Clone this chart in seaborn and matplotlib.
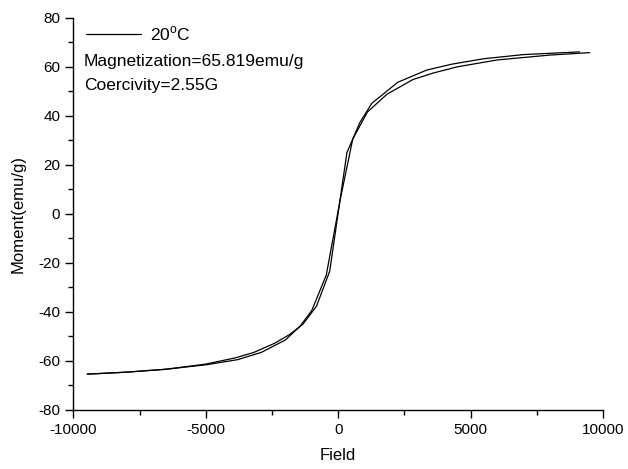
import numpy as np
import pandas as pd
import matplotlib
matplotlib.use("Agg")
import matplotlib.pyplot as plt
import seaborn as sns
from matplotlib.ticker import MultipleLocator
from matplotlib.lines import Line2D

# branch A (sampled field points, Oe) and moment (emu/g)
field_a = [-9480, -8000, -6500, -5000, -3900, -3200, -2400, -1830, -1330, -820,
           -320, 330, 820, 1270, 2250, 3350, 4300, 5500, 7000, 9120]
moment_a = [-65.4, -64.6, -63.4, -61.3, -58.8, -56.6, -52.8, -49.2, -45.0, -37.7,
            -23.4, 25.0, 37.3, 45.1, 53.7, 58.7, 61.1, 63.3, 65.0, 66.1]

# branch B
field_b = [9500, 8000, 6000, 4500, 3600, 2820, 1840, 1100, 550, 80,
           -450, -1000, -1450, -2000, -2900, -3800, -5000, -6500, -8000, -9480]
moment_b = [65.8, 64.8, 62.8, 60.0, 57.5, 54.8, 48.8, 41.5, 30.5, 6.0,
            -25.0, -39.5, -46.0, -51.5, -56.5, -59.5, -61.6, -63.4, -64.6, -65.4]

legend_label = "20$^{\\mathregular{o}}$C"
magnetization_text = "Magnetization=65.819emu/g"
coercivity_text = "Coercivity=2.55G"

df = pd.DataFrame({
    "Field": field_a + field_b,
    "Moment": moment_a + moment_b,
    "branch": ["A"] * len(field_a) + ["B"] * len(field_b),
})

sns.set_style("ticks")
plt.rcParams["font.family"] = ["Liberation Sans", "DejaVu Sans"]
plt.rcParams["axes.unicode_minus"] = False
plt.rcParams["text.color"] = "black"
plt.rcParams["axes.labelcolor"] = "black"

fig = plt.figure(figsize=(6.28, 4.69), dpi=100)
ax = fig.add_axes([0.117, 0.126, 0.843, 0.836])

sns.lineplot(data=df, x="Field", y="Moment", units="branch", estimator=None,
             sort=False, color="black", linewidth=0.9, ax=ax)

ax.set_xlim(-10000, 10000)
ax.set_ylim(-80, 80)
ax.xaxis.set_major_locator(MultipleLocator(5000))
ax.xaxis.set_minor_locator(MultipleLocator(2500))
ax.yaxis.set_major_locator(MultipleLocator(20))
ax.yaxis.set_minor_locator(MultipleLocator(10))
ax.tick_params(which="major", direction="out", length=6, width=1,
               labelsize=11, color="black", labelcolor="black")
ax.tick_params(which="minor", direction="out", length=3.5, width=1, color="black")
for s in ["top", "right"]:
    ax.spines[s].set_visible(False)
for s in ["left", "bottom"]:
    ax.spines[s].set_linewidth(1)
    ax.spines[s].set_color("black")

ax.set_xlabel("Field", fontsize=12, labelpad=8)
ax.set_ylabel("Moment(emu/g)", fontsize=12, labelpad=9)

handle = Line2D([], [], color="black", linewidth=0.9)
ax.legend([handle], [legend_label], loc="center left", frameon=False,
          fontsize=12.5, handlelength=3.2, handletextpad=0.5,
          bbox_to_anchor=(0.0, 0.96), borderaxespad=0.3)

ax.text(0.02, 0.888, magnetization_text, transform=ax.transAxes,
        fontsize=12.5, va="center", ha="left")
ax.text(0.02, 0.827, coercivity_text, transform=ax.transAxes,
        fontsize=12.5, va="center", ha="left")

fig.savefig("out.png", dpi=100)
